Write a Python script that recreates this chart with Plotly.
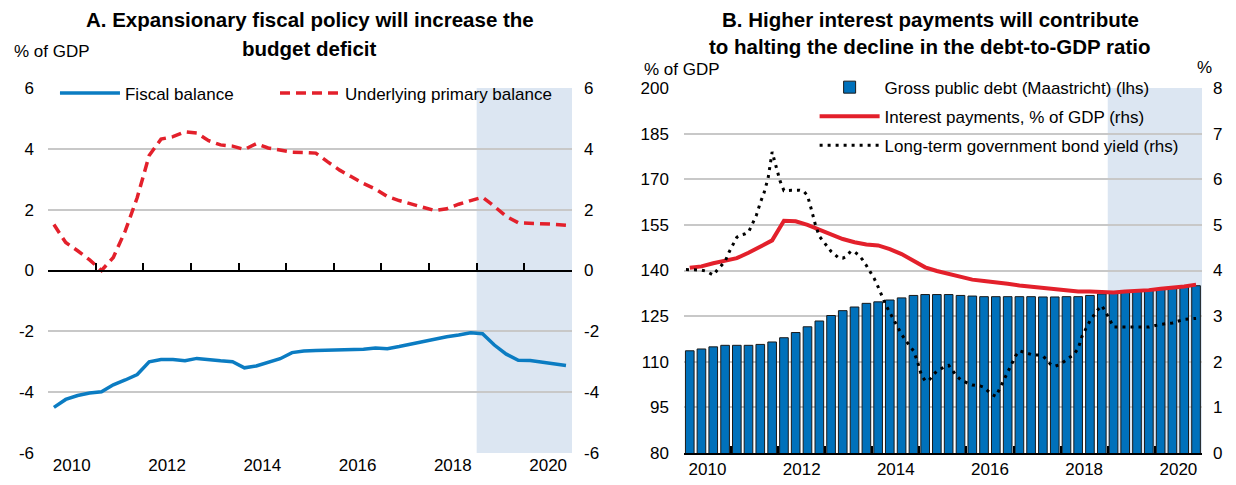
import pandas as pd
import plotly.graph_objects as go

# Quarterly axis 2010Q1-2020Q4, projections from 2019Q1
quarters = pd.period_range("2010Q1", "2020Q4", freq="Q")
months_hist = pd.period_range("2010-01", "2018-12", freq="M")
proj_quarters = pd.period_range("2019Q1", "2020Q4", freq="Q")
label_years = [2010, 2012, 2014, 2016, 2018, 2020]

# Panel A, % of GDP
fiscal_balance = [
    -4.50, -4.24, -4.11, -4.03, -3.99, -3.76, -3.60, -3.42, -3.00, -2.93, -2.93, -2.97,
    -2.89, -2.94, -2.97, -3.00, -3.20, -3.14, -3.03, -2.90, -2.70, -2.65, -2.63, -2.62,
    -2.61, -2.60, -2.59, -2.55, -2.57, -2.50, -2.42, -2.33, -2.25, -2.18, -2.12, -2.05,
    -2.08, -2.45, -2.75, -2.95, -2.96, -3.01, -3.05, -3.12,
]
primary_balance = [
    1.51, 0.92, 0.65, 0.35, 0.00, 0.43, 1.30, 2.40, 3.78, 4.32, 4.40, 4.56,
    4.52, 4.27, 4.13, 4.09, 3.98, 4.17, 4.03, 3.95, 3.89, 3.88, 3.86, 3.57,
    3.30, 3.08, 2.86, 2.68, 2.43, 2.30, 2.18, 2.08, 1.97, 2.03, 2.18, 2.30,
    2.41, 2.11, 1.78, 1.57, 1.56, 1.55, 1.52, 1.49,
]
a_ticks = [-6, -4, -2, 0, 2, 4, 6]
a_tick_labels = ["-6", "-4", "-2", "0", "2", "4", "6"]

# Panel B
gross_debt = [
    113.6, 114.2, 114.9, 115.4, 115.4, 115.4, 115.7, 116.5, 117.9, 119.6, 121.5, 123.4,
    125.2, 126.8, 128.0, 129.2, 129.7, 130.3, 131.0, 131.8, 132.1, 132.1, 132.1, 131.8,
    131.6, 131.4, 131.4, 131.4, 131.4, 131.4, 131.3, 131.3, 131.4, 131.4, 131.8, 132.3,
    132.7, 133.0, 133.4, 133.7, 134.0, 134.3, 134.7, 135.0,
]
interest_payments = [
    4.06, 4.09, 4.16, 4.22, 4.27, 4.39, 4.53, 4.66, 5.09, 5.08, 5.00, 4.89,
    4.78, 4.69, 4.62, 4.57, 4.55, 4.47, 4.36, 4.22, 4.07, 3.99, 3.93, 3.85,
    3.80, 3.77, 3.75, 3.71, 3.67, 3.64, 3.61, 3.59, 3.56, 3.54, 3.54, 3.52,
    3.52, 3.54, 3.55, 3.57, 3.60, 3.62, 3.65, 3.69,
]
bond_yield_hist = [
    4.02, 4.02, 4.02, 4.02, 4.01, 3.99, 3.95, 3.90, 4.01, 4.11, 4.20, 4.40,
    4.57, 4.73, 4.78, 4.80, 4.84, 5.03, 5.21, 5.49, 5.72, 6.04, 6.60, 6.28,
    5.96, 5.75, 5.76, 5.76, 5.76, 5.76, 5.74, 5.64, 5.33, 5.00, 4.75, 4.64,
    4.52, 4.42, 4.35, 4.27, 4.27, 4.31, 4.42, 4.41, 4.34, 4.24, 4.11, 3.98,
    3.82, 3.64, 3.44, 3.24, 3.08, 2.91, 2.75, 2.60, 2.47, 2.36, 2.24, 2.01,
    1.71, 1.58, 1.59, 1.71, 1.79, 1.84, 1.89, 1.92, 1.80, 1.69, 1.61, 1.56,
    1.52, 1.49, 1.48, 1.47, 1.44, 1.36, 1.28, 1.24, 1.42, 1.60, 1.79, 1.97,
    2.13, 2.24, 2.21, 2.18, 2.16, 2.15, 2.15, 2.13, 2.03, 1.94, 1.90, 1.93,
    1.98, 2.04, 2.09, 2.17, 2.29, 2.56, 2.73, 2.90, 3.02, 3.14, 3.23, 3.09,
]
bond_yield_proj = [2.76, 2.76, 2.76, 2.76, 2.82, 2.85, 2.93, 2.95]

BLUE = "#0b7cc2"
BAR_BLUE = "#0071bb"
RED = "#e3202b"
SHADE = "#dce6f2"
GRID = "#c8c8c8"
FONT = "Liberation Sans, Arial"


def mid(periods):
    return [p.start_time + (p.end_time - p.start_time) / 2 for p in periods]


q_x = mid(quarters)
yield_x = mid(months_hist) + mid(proj_quarters)
yield_y = bond_yield_hist + bond_yield_proj
x_range = [str(quarters[0].start_time.date()),
           str((quarters[-1].end_time + pd.Timedelta(seconds=1)).date())]
year_starts = [f"{y}-01-01" for y in range(2010, 2022)]
label_pos = [f"{y}-07-02" for y in label_years]
proj_start = str(proj_quarters[0].start_time.date())

# page has an 8px body margin, domains are set with that in mind
dom_a = [0.0324, 0.4563]
dom_b = [0.5469, 0.9660]
dom_y = [0.0825, 0.8350]

fig = go.Figure()

# Panel A
fig.add_trace(go.Scatter(
    x=q_x, y=fiscal_balance, mode="lines", name="Fiscal balance",
    line=dict(color=BLUE, width=3.5), xaxis="x", yaxis="y", legend="legend",
))
fig.add_trace(go.Scatter(
    x=q_x, y=primary_balance, mode="lines", name="Underlying primary balance",
    line=dict(color=RED, width=3.5, dash="10px,6px"), xaxis="x", yaxis="y", legend="legend3",
))
# empty traces so the right axis and the zero-line tick axis get drawn
fig.add_trace(go.Scatter(x=[], y=[], xaxis="x", yaxis="y2", showlegend=False, hoverinfo="skip"))
fig.add_trace(go.Scatter(x=[], y=[], xaxis="x2", yaxis="y", showlegend=False, hoverinfo="skip"))

# Panel B
fig.add_trace(go.Bar(
    x=q_x, y=gross_debt, name="Gross public debt (Maastricht) (lhs)",
    marker=dict(color=BAR_BLUE, line=dict(color="#1a1a1a", width=1)),
    width=67 * 86400000, xaxis="x3", yaxis="y3", legend="legend2", legendgroup="debt",
))
fig.add_trace(go.Scatter(
    x=q_x, y=interest_payments, mode="lines", name="Interest payments, % of GDP (rhs)",
    line=dict(color=RED, width=4), xaxis="x3", yaxis="y4", legend="legend2", legendgroup="int",
))
fig.add_trace(go.Scatter(
    x=yield_x, y=yield_y, mode="lines", name="Long-term government bond yield (rhs)",
    line=dict(color="black", width=3, dash="3px,5px"), xaxis="x3", yaxis="y4",
    legend="legend2", legendgroup="yield",
))
fig.add_trace(go.Scatter(x=[], y=[], xaxis="x4", yaxis="y3", showlegend=False, hoverinfo="skip"))

tickfont = dict(family=FONT, size=17, color="black")
label_axis = dict(
    type="date", range=x_range, tickmode="array", tickvals=label_pos,
    ticktext=[str(y) for y in label_years], ticks="", showgrid=False,
    zeroline=False, tickfont=tickfont,
)
tick_axis = dict(
    type="date", range=x_range, tickmode="array", tickvals=year_starts,
    ticks="inside", ticklen=7, tickwidth=2, tickcolor="black",
    showticklabels=False, showgrid=False, zeroline=False,
    showline=True, linecolor="black", linewidth=2,
)
legend_style = dict(xanchor="left", yanchor="top", bgcolor="rgba(0,0,0,0)",
                    font=dict(size=17), itemwidth=60)

fig.update_layout(
    width=1236, height=485,
    margin=dict(l=0, r=0, t=0, b=0, autoexpand=False),
    plot_bgcolor="white", paper_bgcolor="white",
    font=dict(family=FONT, size=17, color="black"),
    barmode="overlay",
    showlegend=True,
    xaxis=dict(domain=dom_a, anchor="y", showline=False, **label_axis),
    xaxis2=dict(domain=dom_a, overlaying="x", anchor="free",
                position=sum(dom_y) / 2, **tick_axis),
    yaxis=dict(domain=dom_y, anchor="x", range=[-6, 6], tickmode="array",
               tickvals=a_ticks, ticktext=a_tick_labels, showgrid=True,
               gridcolor=GRID, gridwidth=1.5, zeroline=False, ticks="",
               tickfont=tickfont, ticklabelstandoff=13),
    yaxis2=dict(overlaying="y", anchor="x", side="right", range=[-6, 6], tickmode="array",
                tickvals=a_ticks, ticktext=a_tick_labels, showgrid=False,
                zeroline=False, ticks="", tickfont=tickfont, ticklabelstandoff=11),
    xaxis3=dict(domain=dom_b, anchor="y3", showline=True, linecolor="black",
                linewidth=2, **label_axis),
    xaxis4=dict(domain=dom_b, overlaying="x3", anchor="y3", **tick_axis),
    yaxis3=dict(domain=dom_y, anchor="x3", range=[80, 200], tick0=80, dtick=15,
                showgrid=True, gridcolor=GRID, gridwidth=1.5, zeroline=False,
                ticks="", tickfont=tickfont, ticklabelstandoff=14),
    yaxis4=dict(overlaying="y3", anchor="x3", side="right", range=[0, 8], dtick=1,
                showgrid=False, zeroline=False, ticks="", tickfont=tickfont,
                ticklabelstandoff=10),
    legend=dict(orientation="h", x=0.038, y=0.861, **legend_style),
    legend3=dict(orientation="h", x=0.216, y=0.861, **legend_style),
    legend2=dict(orientation="v", x=0.6526, y=0.873, traceorder="grouped",
                 tracegroupgap=4, **legend_style),
)

# Projection shading
fig.add_shape(type="rect", xref="x", yref="y domain", x0=proj_start, x1=x_range[1],
              y0=0, y1=1, fillcolor=SHADE, line_width=0, layer="below")
fig.add_shape(type="rect", xref="x3", yref="y3 domain", x0=proj_start, x1=x_range[1],
              y0=0, y1=1, fillcolor=SHADE, line_width=0, layer="below")

title_font = dict(family=FONT, size=20.5, color="black")
titles = [
    (0.2443, 0.9753, "A. Expansionary fiscal policy will increase the"),
    (0.2443, 0.9175, "budget deficit"),
    (0.746, 0.9753, "B. Higher interest payments will contribute"),
    (0.746, 0.9196, "to halting the decline in the debt-to-GDP ratio"),
]
for tx, ty, text in titles:
    fig.add_annotation(text=f"<b>{text}</b>", xref="paper", yref="paper", x=tx, y=ty,
                       xanchor="center", yanchor="middle", showarrow=False, font=title_font)

unit_font = dict(family=FONT, size=17, color="black")
fig.add_annotation(text="% of GDP", xref="paper", yref="paper", x=0.0032, y=0.9093,
                   xanchor="left", yanchor="middle", showarrow=False, font=unit_font)
fig.add_annotation(text="% of GDP", xref="paper", yref="paper", x=0.513, y=0.8722,
                   xanchor="left", yanchor="middle", showarrow=False, font=unit_font)
fig.add_annotation(text="%", xref="paper", yref="paper", x=0.9684, y=0.8763,
                   xanchor="center", yanchor="middle", showarrow=False, font=unit_font)

fig.write_html("out.html")
